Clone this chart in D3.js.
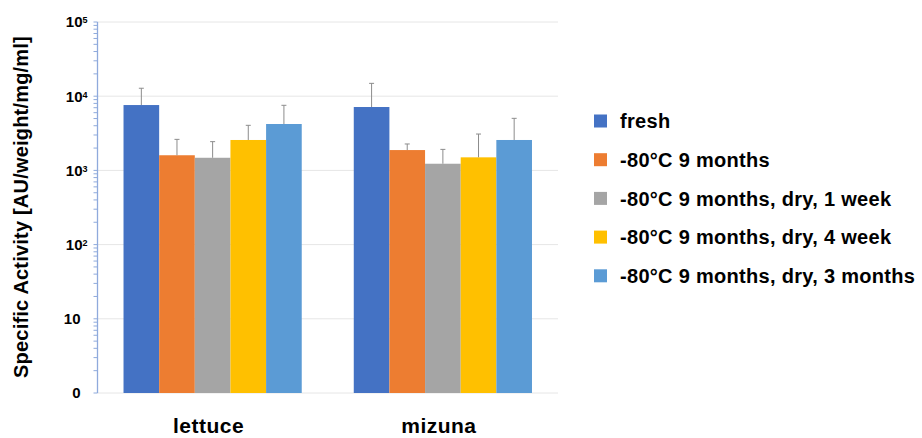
<!DOCTYPE html>
<html lang="en">
<head>
<meta charset="UTF-8">
<title>Specific Activity</title>
<script src="https://d3js.org/d3.v7.min.js"></script>
<style>
    body { margin: 0; background: #fff; }
    svg text { font-family: "Liberation Sans", Arial, sans-serif; font-weight: bold; fill: #000; }
</style>
</head>
<body>
<div id="chart"></div>
<script>
    var groups = ["lettuce", "mizuna"];
    var series = ["fresh", "-80°C 9 months", "-80°C 9 months, dry, 1 week",
                  "-80°C 9 months, dry, 4 week", "-80°C 9 months, dry, 3 months"];
    var colors = ["#4472C4", "#ED7D31", "#A5A5A5", "#FFC000", "#5B9BD5"];
    // mean values per series
    var lettuceValues = [7600, 1600, 1480, 2570, 4220];
    var mizunaValues = [7150, 1880, 1230, 1500, 2570];
    // top of error bar
    var lettuceErrTop = [12800, 2620, 2440, 4050, 7540];
    var mizunaErrTop = [14900, 2270, 1920, 3090, 5030];
    var yTicks = [1, 10, 100, 1000, 10000, 100000];

    var width = 922, height = 438;
    var plot = { left: 97.5, right: 558, top: 22, bottom: 393 };

    var svg = d3.select("#chart").append("svg")
        .attr("width", width)
        .attr("height", height);

    var y = d3.scaleLog().domain([1, 1e5]).range([plot.bottom, plot.top]);

    var x0 = d3.scaleBand().domain(groups)
        .range([plot.left, plot.right])
        .paddingInner(0.226)
        .paddingOuter(0.113);

    var x1 = d3.scaleBand().domain(d3.range(series.length))
        .range([0, x0.bandwidth()]);

    // gridlines
    svg.append("g")
        .selectAll("line")
        .data(yTicks)
        .enter().append("line")
        .attr("x1", plot.left)
        .attr("x2", plot.right)
        .attr("y1", d => y(d))
        .attr("y2", d => y(d))
        .attr("stroke", "#e6e6e6")
        .attr("stroke-width", 1);

    // y axis with minor ticks
    var minor = [];
    for (var e = 0; e < 5; e++) {
        for (var m = 2; m <= 9; m++) minor.push(m * Math.pow(10, e));
    }
    var axis = svg.append("g").attr("transform", "translate(" + plot.left + ",0)");
    axis.append("line")
        .attr("y1", plot.top).attr("y2", plot.bottom)
        .attr("stroke", "#8faadc").attr("stroke-width", 1.3);
    axis.selectAll("line.minor")
        .data(minor.concat(yTicks))
        .enter().append("line")
        .attr("class", "minor")
        .attr("x1", -4).attr("x2", 0)
        .attr("y1", d => y(d)).attr("y2", d => y(d))
        .attr("stroke", "#8faadc").attr("stroke-width", 1);

    var tickLabel = axis.selectAll("text.tick")
        .data(yTicks)
        .enter().append("text")
        .attr("class", "tick")
        .attr("y", d => y(d))
        .attr("dy", "0.36em")
        .attr("text-anchor", "end")
        .style("font-size", "15px");
    tickLabel.each(function(d) {
        var t = d3.select(this);
        var exp = Math.round(Math.log10(d));
        if (exp < 2) {
            t.attr("x", -17).text(exp === 0 ? "0" : "10");
        } else {
            t.attr("x", -10);
            t.append("tspan").text("10");
            t.append("tspan").attr("dy", "-0.45em").style("font-size", "9px").text(exp);
        }
    });

    // bars
    var rows = groups.map(function(g, gi) {
        var vals = gi === 0 ? lettuceValues : mizunaValues;
        var errs = gi === 0 ? lettuceErrTop : mizunaErrTop;
        return series.map(function(s, si) {
            return { group: g, idx: si, value: vals[si], err: errs[si] };
        });
    });

    var gGroup = svg.append("g").selectAll("g")
        .data(rows)
        .enter().append("g")
        .attr("transform", (d, i) => "translate(" + x0(groups[i]) + ",0)");

    gGroup.selectAll("rect")
        .data(d => d)
        .enter().append("rect")
        .attr("x", d => x1(d.idx))
        .attr("width", x1.bandwidth())
        .attr("y", d => y(d.value))
        .attr("height", d => y(1) - y(d.value))
        .attr("fill", d => colors[d.idx]);

    // error bars
    var eb = gGroup.selectAll("g.err")
        .data(d => d)
        .enter().append("g")
        .attr("class", "err")
        .attr("transform", d => "translate(" + (x1(d.idx) + x1.bandwidth() / 2) + ",0)");
    eb.append("line")
        .attr("y1", d => y(d.value)).attr("y2", d => y(d.err))
        .attr("stroke", "#8c8c8c").attr("stroke-width", 1);
    eb.append("line")
        .attr("x1", -2.5).attr("x2", 2.5)
        .attr("y1", d => y(d.err)).attr("y2", d => y(d.err))
        .attr("stroke", "#8c8c8c").attr("stroke-width", 1);

    // category labels
    svg.append("g").selectAll("text")
        .data(groups)
        .enter().append("text")
        .attr("x", d => x0(d) + x0.bandwidth() / 2 - 4)
        .attr("y", 433)
        .attr("text-anchor", "middle")
        .style("font-size", "21px")
        .style("letter-spacing", "0.5px")
        .text(d => d);

    // y title
    svg.append("text")
        .attr("transform", "translate(28,207) rotate(-90)")
        .attr("text-anchor", "middle")
        .style("font-size", "20px")
        .style("letter-spacing", "0.2px")
        .text("Specific Activity [AU/weight/mg/ml]");

    // legend
    var legend = svg.append("g").selectAll("g")
        .data(series)
        .enter().append("g")
        .attr("transform", (d, i) => "translate(594," + (121 + i * 38.7) + ")");
    legend.append("rect")
        .attr("x", 0).attr("y", -6.5)
        .attr("width", 13).attr("height", 13)
        .attr("fill", (d, i) => colors[i]);
    legend.append("text")
        .attr("x", 26)
        .attr("dy", "0.36em")
        .style("font-size", "20px")
        .style("letter-spacing", "0.3px")
        .text(d => d);
</script>
</body>
</html>
